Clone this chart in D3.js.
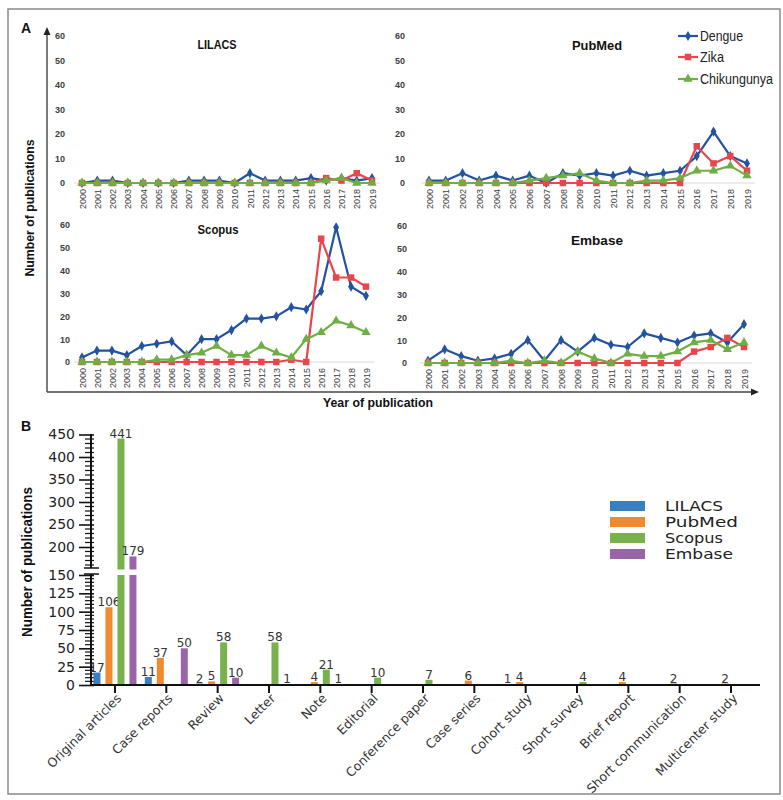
<!DOCTYPE html>
<html><head><meta charset="utf-8">
<script src="https://cdn.jsdelivr.net/npm/d3@7"></script>
<style>body{margin:0;background:#fff}svg{display:block}</style>
</head><body>
<svg id="c" width="783" height="800"></svg>
<script>
// ---------- DATA ----------
const years = ["2000","2001","2002","2003","2004","2005","2006","2007","2008","2009","2010","2011","2012","2013","2014","2015","2016","2017","2018","2019"];
const yTicksA = [0,10,20,30,40,50,60];
const diseases = ["Dengue","Zika","Chikungunya"];

const lilacsDengue = [0,1,1,0,0,0,0,1,1,1,0,4,1,1,1,2,1,2,1,2];
const lilacsZika   = [0,0,0,0,0,0,0,0,0,0,0,0,0,0,0,0,2,1,4,1];
const lilacsChik   = [0,0,0,0,0,0,0,0,0,0,0,0,0,0,0,0,1,2,0,0];

const pubmedDengue = [1,1,4,1,3,1,3,0,4,3,4,3,5,3,4,5,11,21,11,8];
const pubmedZika   = [0,0,0,0,0,0,0,0,0,0,0,0,0,0,0,0,15,8,11,5];
const pubmedChik   = [0,0,0,0,0,0,1,2,3,4,1,0,0,1,1,2,5,5,7,3];

const scopusDengue = [2,5,5,3,7,8,9,3,10,10,14,19,19,20,24,23,31,59,33,29];
const scopusZika   = [0,0,0,0,0,0,0,0,0,0,0,0,0,0,1,0,54,37,37,33];
const scopusChik   = [0,0,0,0,0,1,1,3,4,7,3,3,7,4,2,10,13,18,16,13];

const embaseDengue = [1,6,3,1,2,4,10,1,10,5,11,8,7,13,11,9,12,13,9,17];
const embaseZika   = [0,0,0,0,0,0,0,0,0,0,0,0,0,0,0,0,5,7,11,7];
const embaseChik   = [0,0,0,0,0,1,0,1,0,5,2,0,4,3,3,5,9,10,6,9];

const categories = ["Original articles","Case reports","Review","Letter","Note","Editorial","Conference paper","Case series","Cohort study","Short survey","Brief report","Short communication","Multicenter study"];
const sources = ["LILACS","PubMed","Scopus","Embase"];
const lilacsTypes = [17,11,2,0,0,0,0,0,1,0,0,0,0];
const pubmedTypes = [106,37,5,0,4,0,0,6,4,0,4,2,2];
const scopusTypes = [441,0,58,58,21,10,7,0,0,4,0,0,0];
const embaseTypes = [179,50,10,1,1,0,0,0,0,0,0,0,0];
const yTicksLow = [0,25,50,75,100,125,150];
const yTicksHigh = [200,250,300,350,400,450];

// ---------- STYLE ----------
const lineColors = {"Dengue":"#2352a0","Zika":"#e8464d","Chikungunya":"#6fae45"};
const symbols = {"Dengue":[d3.symbolDiamond,30],"Zika":[d3.symbolSquare,42],"Chikungunya":[d3.symbolTriangle,38]};
const barColors = {"LILACS":"#3b7fc3","PubMed":"#f08a2c","Scopus":"#79b14c","Embase":"#9a65a8"};

const svg = d3.select("#c");
svg.append("rect").attr("x",8).attr("y",9).attr("width",772).attr("height",785)
  .attr("fill","none").attr("stroke","#8a8a8a").attr("stroke-width",1.5);

// ---------- PART A ----------
const sans = "'Liberation Sans', Arial, sans-serif";
svg.append("text").attr("x",21).attr("y",33).text("A")
  .attr("font-family",sans).attr("font-weight","bold").attr("font-size",14).attr("fill","#111");

svg.append("line").attr("x1",47).attr("y1",392).attr("x2",47).attr("y2",33).attr("stroke","#444").attr("stroke-width",1.4);
svg.append("path").attr("d","M47,27 L43.5,35 L50.5,35 Z").attr("fill","#222");
svg.append("line").attr("x1",47).attr("y1",392).attr("x2",753).attr("y2",392).attr("stroke","#444").attr("stroke-width",1.4);
svg.append("path").attr("d","M759,392 L751,388.5 L751,395.5 Z").attr("fill","#222");

svg.append("text").attr("transform","translate(34,208) rotate(-90)").attr("text-anchor","middle")
  .attr("font-family",sans).attr("font-weight","bold").attr("font-size",13).attr("fill","#111")
  .attr("textLength",137).attr("lengthAdjust","spacingAndGlyphs").text("Number of publications");
svg.append("text").attr("x",378).attr("y",407).attr("text-anchor","middle")
  .attr("font-family",sans).attr("font-weight","bold").attr("font-size",13).attr("fill","#111")
  .attr("textLength",110).attr("lengthAdjust","spacingAndGlyphs").text("Year of publication");

const panels = [
  {name:"LILACS", data:[lilacsDengue,lilacsZika,lilacsChik], x0:82, x1:372, yb:183, yt:36, lab:65, tx:217, ty:49, tw:39},
  {name:"PubMed", data:[pubmedDengue,pubmedZika,pubmedChik], x0:429, x1:747, yb:183, yt:36, lab:405, tx:597, ty:50, tw:50},
  {name:"Scopus", data:[scopusDengue,scopusZika,scopusChik], x0:82, x1:366, yb:362, yt:225, lab:70, tx:218, ty:234, tw:41},
  {name:"Embase", data:[embaseDengue,embaseZika,embaseChik], x0:428, x1:744, yb:363, yt:226, lab:407, tx:597, ty:245, tw:52}
];

panels.forEach(p => {
  const g = svg.append("g");
  const x = d3.scalePoint().domain(years).range([p.x0, p.x1]);
  const y = d3.scaleLinear().domain([0,60]).range([p.yb, p.yt]);
  g.append("line").attr("x1",p.x0-8).attr("x2",p.x1+8).attr("y1",y(0)).attr("y2",y(0))
    .attr("stroke","#d9d9d9").attr("stroke-width",1.2);
  const ya = g.append("g").attr("transform",`translate(${p.lab},0)`)
    .call(d3.axisLeft(y).tickValues(yTicksA).tickSize(0).tickPadding(0));
  ya.select(".domain").remove();
  ya.selectAll("text").attr("font-family",sans).attr("font-size",9).attr("font-weight","bold").attr("fill","#404040");
  const xa = g.append("g").attr("transform",`translate(0,${p.yb})`)
    .call(d3.axisBottom(x).tickSize(0));
  xa.select(".domain").remove();
  xa.selectAll("text").attr("transform","rotate(-90)").attr("text-anchor","end")
    .attr("x",-6).attr("y",0).attr("dy","0.35em")
    .attr("font-family",sans).attr("font-size",9).attr("fill","#404040");
  g.append("text").attr("x",p.tx).attr("y",p.ty).attr("text-anchor","middle")
    .attr("font-family",sans).attr("font-weight","bold").attr("font-size",13).attr("fill","#111")
    .attr("textLength",p.tw).attr("lengthAdjust","spacingAndGlyphs").text(p.name);
  diseases.forEach((dz,k) => {
    const vals = p.data[k];
    const line = d3.line().x((d,i)=>x(years[i])).y(d=>y(d));
    g.append("path").datum(vals).attr("d",line).attr("fill","none")
      .attr("stroke",lineColors[dz]).attr("stroke-width",2.2).attr("stroke-linejoin","round");
    g.selectAll(null).data(vals).enter().append("path")
      .attr("transform",(d,i)=>`translate(${x(years[i])},${y(d)})`)
      .attr("d",d3.symbol().type(symbols[dz][0]).size(symbols[dz][1]))
      .attr("fill",lineColors[dz]);
  });
});

const legA = svg.append("g");
const legRowsA = [36,57,79];
const legTW = [43,24,73];
diseases.forEach((dz,i) => {
  const yy = legRowsA[i];
  legA.append("line").attr("x1",678).attr("x2",698).attr("y1",yy).attr("y2",yy)
    .attr("stroke",lineColors[dz]).attr("stroke-width",2.2);
  legA.append("path").attr("transform",`translate(688,${yy})`)
    .attr("d",d3.symbol().type(symbols[dz][0]).size(symbols[dz][1])).attr("fill",lineColors[dz]);
  legA.append("text").attr("x",700).attr("y",yy+5).attr("font-family",sans).attr("font-size",14)
    .attr("fill","#222").attr("textLength",legTW[i]).attr("lengthAdjust","spacingAndGlyphs").text(dz);
});

// ---------- PART B ----------
const dv = "'DejaVu Sans', Verdana, sans-serif";
svg.append("text").attr("x",21).attr("y",431).text("B")
  .attr("font-family",sans).attr("font-weight","bold").attr("font-size",14).attr("fill","#111");
svg.append("text").attr("transform","translate(32,562) rotate(-90)").attr("text-anchor","middle")
  .attr("font-family",sans).attr("font-weight","bold").attr("font-size",15).attr("fill","#111")
  .attr("textLength",150).attr("lengthAdjust","spacingAndGlyphs").text("Number of publications");

const xB = d3.scaleBand().domain(categories).range([89.3, 756.7]);
const sB = d3.scaleBand().domain(sources).range([-24,24]).paddingInner(5/12).paddingOuter(5/24);
const yLo = d3.scaleLinear().domain([0,150]).range([685,575]);
const yHi = d3.scaleLinear().domain([150,450]).range([569.5,434.5]);
const typeData = [lilacsTypes, pubmedTypes, scopusTypes, embaseTypes];

const gB = svg.append("g");
gB.append("line").attr("x1",91).attr("x2",91).attr("y1",685).attr("y2",574).attr("stroke","#111").attr("stroke-width",2);
gB.append("line").attr("x1",91).attr("x2",91).attr("y1",568).attr("y2",434).attr("stroke","#111").attr("stroke-width",2);
[568,574].forEach(yy => gB.append("line").attr("x1",84).attr("x2",99).attr("y1",yy).attr("y2",yy).attr("stroke","#111").attr("stroke-width",1.5));
const minorLo = d3.range(0,151,5).filter(v=>v%25!==0);
const minorHi = d3.range(160,451,10).filter(v=>v%50!==0);
minorLo.forEach(v => gB.append("line").attr("x1",85).attr("x2",94).attr("y1",yLo(v)).attr("y2",yLo(v)).attr("stroke","#111").attr("stroke-width",1.2));
minorHi.forEach(v => gB.append("line").attr("x1",85).attr("x2",94).attr("y1",yHi(v)).attr("y2",yHi(v)).attr("stroke","#111").attr("stroke-width",1.2));
const axLo = gB.append("g").attr("transform","translate(94,0)")
  .call(d3.axisLeft(yLo).tickValues(yTicksLow).tickSize(15).tickPadding(4));
const axHi = gB.append("g").attr("transform","translate(94,0)")
  .call(d3.axisLeft(yHi).tickValues(yTicksHigh).tickSize(15).tickPadding(4));
[axLo,axHi].forEach(a => {
  a.select(".domain").remove();
  a.selectAll("line").attr("stroke","#111").attr("stroke-width",1.6);
  a.selectAll("text").attr("font-family",dv).attr("font-size",14).attr("fill","#222");
});

sources.forEach((s,k) => {
  typeData[k].forEach((v,i) => {
    if (v <= 0) return;
    const cx = xB(categories[i]) + xB.bandwidth()/2;
    const bx = cx + sB(s);
    const bw = sB.bandwidth();
    let top;
    if (v <= 150) {
      top = yLo(v);
      gB.append("rect").attr("x",bx).attr("y",top).attr("width",bw).attr("height",yLo(0)-top).attr("fill",barColors[s]);
    } else {
      gB.append("rect").attr("x",bx).attr("y",yLo(150)).attr("width",bw).attr("height",yLo(0)-yLo(150)).attr("fill",barColors[s]);
      top = yHi(v);
      gB.append("rect").attr("x",bx).attr("y",top).attr("width",bw).attr("height",yHi(150)-top).attr("fill",barColors[s]);
    }
    gB.append("text").attr("x",bx+bw/2).attr("y",Math.min(top,684)-1).attr("text-anchor","middle")
      .attr("font-family",dv).attr("font-size",12).attr("fill","#333").text(v);
  });
});

const axX = gB.append("g").attr("transform","translate(0,685)")
  .call(d3.axisBottom(xB).tickSize(8).tickSizeOuter(0));
axX.select(".domain").remove();
gB.append("line").attr("x1",90).attr("x2",760).attr("y1",685).attr("y2",685).attr("stroke","#111").attr("stroke-width",2);
axX.selectAll("line").attr("stroke","#111").attr("stroke-width",2);
axX.selectAll("text").attr("transform","translate(4,11) rotate(-45)").attr("text-anchor","end")
  .attr("x",0).attr("y",0).attr("dy","0.35em")
  .attr("font-family",dv).attr("font-size",12.5).attr("fill","#333");

const legTWB = [58,73,58,68];
sources.forEach((s,i) => {
  gB.append("rect").attr("x",610).attr("y",501+16*i).attr("width",35).attr("height",10).attr("fill",barColors[s]);
  gB.append("text").attr("x",665).attr("y",511+16*i).attr("font-family",dv).attr("font-size",13.5)
    .attr("fill","#222").attr("textLength",legTWB[i]).attr("lengthAdjust","spacingAndGlyphs").text(s);
});
</script>
</body></html>
